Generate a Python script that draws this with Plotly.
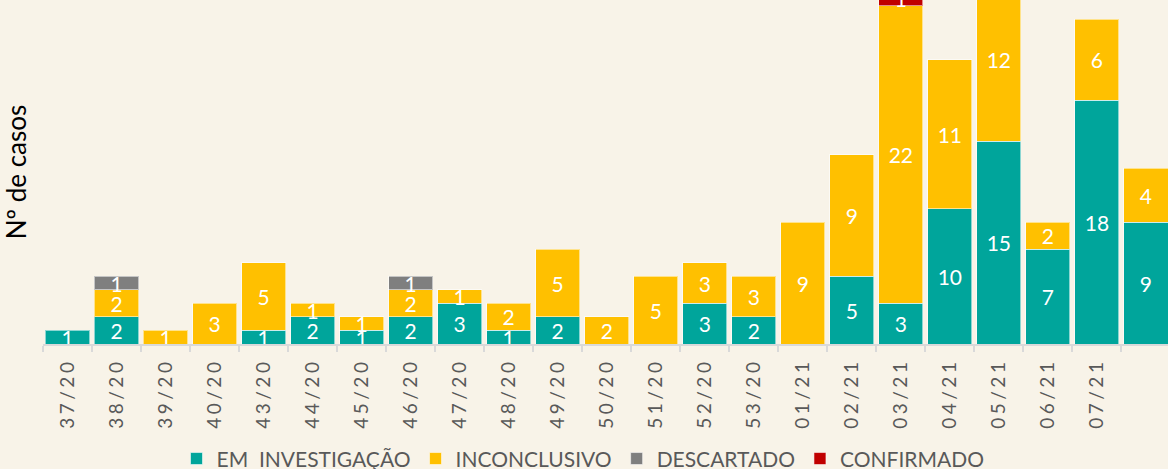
import plotly.graph_objects as go

semanas = ["37/20", "38/20", "39/20", "40/20", "43/20", "44/20", "45/20", "46/20",
           "47/20", "48/20", "49/20", "50/20", "51/20", "52/20", "53/20", "01/21",
           "02/21", "03/21", "04/21", "05/21", "06/21", "07/21", "08/21"]
em_investigacao = [1, 2, None, None, 1, 2, 1, 2, 3, 1, 2, None, None, 3, 2, None,
                   5, 3, 10, 15, 7, 18, 9]
inconclusivo = [None, 2, 1, 3, 5, 1, 1, 2, 1, 2, 5, 2, 5, 3, 3, 9,
                9, 22, 11, 12, 2, 6, 4]
descartado = [None, 1, None, None, None, None, None, 1, None, None, None, None, None,
              None, None, None, None, None, None, None, None, None, None]
confirmado = [None, None, None, None, None, None, None, None, None, None, None, None,
              None, None, None, None, None, 1, None, None, None, None, None]
labels_visiveis = semanas[:22]

series = [
    ("EM  INVESTIGAÇÃO", em_investigacao, "#00A59B"),
    ("INCONCLUSIVO", inconclusivo, "#FFC000"),
    ("DESCARTADO", descartado, "#7F7F7F"),
    ("CONFIRMADO", confirmado, "#C00000"),
]

FONT = "Lato"
fig = go.Figure()
for nome, vals, cor in series:
    fig.add_trace(go.Bar(
        x=semanas, y=vals, name=nome,
        marker=dict(color=cor, line=dict(color="rgba(255,255,255,0.55)", width=1)),
        text=[("" if v is None else str(v)) for v in vals],
        textposition="inside", insidetextanchor="middle", constraintext="none",
        textangle=0,
        textfont=dict(family=FONT, size=21, color="white"),
    ))

fig.update_layout(
    barmode="stack",
    bargap=0.1,
    width=1168, height=469,
    margin=dict(l=43, r=0, t=0, b=125, autoexpand=False),
    paper_bgcolor="#F8F3E8",
    plot_bgcolor="#F8F3E8",
    font=dict(family=FONT, color="#595959"),
    showlegend=True,
    legend=dict(orientation="h", x=0.48, xanchor="center", y=-0.334, yanchor="middle",
                font=dict(family=FONT, size=21, color="#595959"),
                traceorder="normal", bgcolor="rgba(0,0,0,0)"),
    xaxis=dict(
        type="category", categoryorder="array", categoryarray=semanas,
        range=[-0.5, 22.45], automargin=False,
        tickmode="array", tickvals=labels_visiveis,
        ticktext=['<span style="letter-spacing:3.5px">%s</span>' % s for s in labels_visiveis],
        tickangle=-90,
        tickfont=dict(family=FONT, size=19, color="#595959"),
        ticks="outside", tickson="boundaries", ticklen=6, tickwidth=1.5,
        tickcolor="#D9D9D9", ticklabelstandoff=5,
        showline=True, linecolor="#D9D9D9", linewidth=2,
        showgrid=False, zeroline=False,
    ),
    yaxis=dict(
        range=[0, 25.42], showticklabels=False, showgrid=False, zeroline=False,
        showline=False, ticks="", automargin=False,
        title=dict(text="Nº de casos", font=dict(family=FONT, size=26, color="#000000"),
                   standoff=8),
    ),
)

fig.write_html("out.html")
